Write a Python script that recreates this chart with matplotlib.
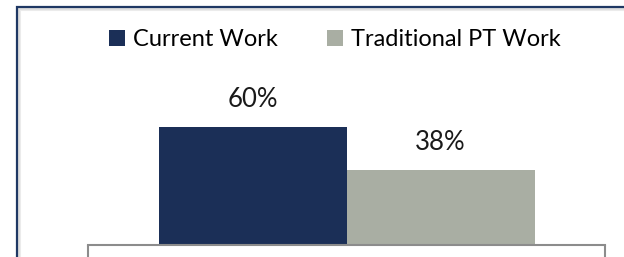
import matplotlib
matplotlib.use("Agg")
import matplotlib.pyplot as plt
from matplotlib.patches import Rectangle, Patch

# data
categories = [""]
series = ["Current Work", "Traditional PT Work"]
values = [60, 38]
labels = ["60%", "38%"]
colors = ["#1b2f57", "#a9aea3"]

plt.rcParams['font.family'] = ['Lato', 'DejaVu Sans']

W, H = 624, 257
fig = plt.figure(figsize=(W / 100, H / 100), dpi=100)

# frame around the chart (continues past the right and bottom edges)
for off, col in [(3, "#ececec"), (2, "#e0e0e0")]:
    fig.add_artist(Rectangle(((17 + off) / W, -0.1), 1.2, (H - 7 - off) / H + 0.1,
                             transform=fig.transFigure, fill=False,
                             edgecolor=col, linewidth=1.5))
fig.add_artist(Rectangle((17 / W, -0.1), 1.2, (H - 7) / H + 0.1,
                         transform=fig.transFigure, fill=False,
                         edgecolor="#1f3864", linewidth=1.6))

ax = fig.add_axes([88 / W, 12 / H, 517 / W, 185 / H])
bw = 188 / 517
xs = [-bw / 2, bw / 2]
bars = ax.bar(xs, values, width=bw, color=colors)
for b, lab in zip(bars, labels):
    ax.annotate(lab, (b.get_x() + b.get_width() / 2, b.get_height()),
                xytext=(0, 14.4), textcoords="offset points",
                ha="center", va="baseline", fontsize=18.5, color="#1a1a1a")

ax.set_xlim(-0.5, 0.5)
ax.set_ylim(0, 185 / 1.967)
for s in ["top", "left", "right"]:
    ax.spines[s].set_visible(False)
ax.spines["bottom"].set_color("#8c8c8c")
ax.spines["bottom"].set_linewidth(1.5)
ax.set_yticks([])
ax.set_xticks([-0.5, 0.5])
ax.set_xticklabels([])
ax.tick_params(axis="x", direction="out", length=12, width=1.5, color="#8c8c8c")

handles = [Patch(facecolor=c, edgecolor="none") for c in colors]
fig.legend(handles, series, loc="center", bbox_to_anchor=(335 / W, 1 - 40 / H),
           ncol=2, frameon=False, fontsize=17, handlelength=0.65, handleheight=0.65,
           handletextpad=0.35, columnspacing=2.1, borderaxespad=0)

fig.savefig("out.png", dpi=100)
